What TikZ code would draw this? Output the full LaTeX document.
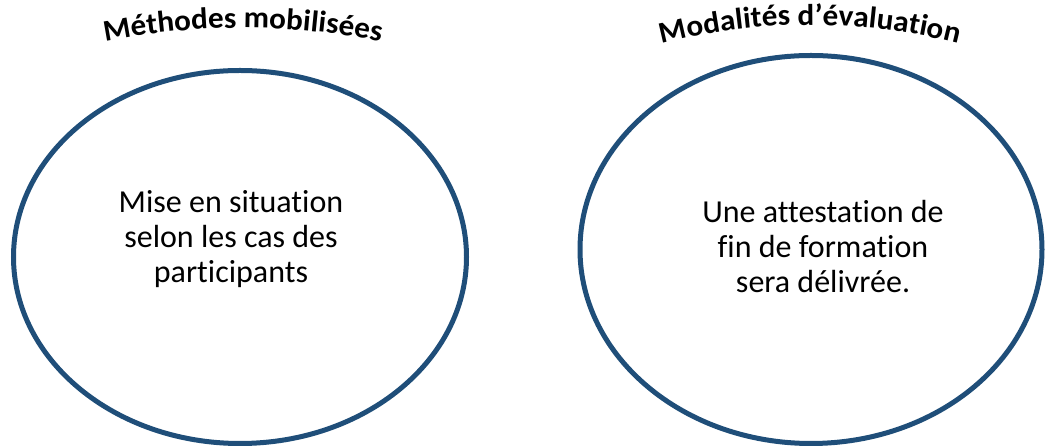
\documentclass[tikz,border=0pt]{standalone}
\usepackage{fontspec}
\setmainfont[Ligatures=NoCommon]{Carlito}
\newfontfamily\titlefont[FakeStretch=1.04,Ligatures=NoCommon]{Carlito Bold}
\usetikzlibrary{shapes.geometric,decorations.text}
\definecolor{ringblue}{HTML}{1F4E79}
\tikzset{
  ring/.style={ellipse, draw=ringblue, line width=5pt, inner sep=0pt},
  body/.style={align=center, inner sep=0pt, font=\fontsize{32}{35}\selectfont},
  archtitle/.style={decorate, decoration={text along path, text align=center,
    text={|\titlefont\fontsize{30}{32}\selectfont|#1}}}
}
\begin{document}
\begin{tikzpicture}[x=1pt,y=1pt]
\useasboundingbox (0,0) rectangle (1045,446);
% the two ellipses
\node[ring, minimum width=453, minimum height=373] (methods) at (240,189) {};
\node[ring, minimum width=462, minimum height=388] (eval) at (811,196.5) {};
% texts inside
\node[body] (methodstext) at (231,207) {Mise en situation\\selon les cas des\\participants};
\node[body] (evaltext) at (823,199.5) {Une attestation de\\fin de formation\\sera délivrée.};
% arched titles
\coordinate (mc) at (243,-302);
\coordinate (ec) at (810,-179);
\path[archtitle={Méthodes mobilisées}] (mc) ++(103:720) arc[start angle=103, end angle=77, radius=720];
\path[archtitle={Modalités d’évaluation}] (ec) ++(106:600) arc[start angle=106, end angle=74, radius=600];
\end{tikzpicture}
\end{document}
